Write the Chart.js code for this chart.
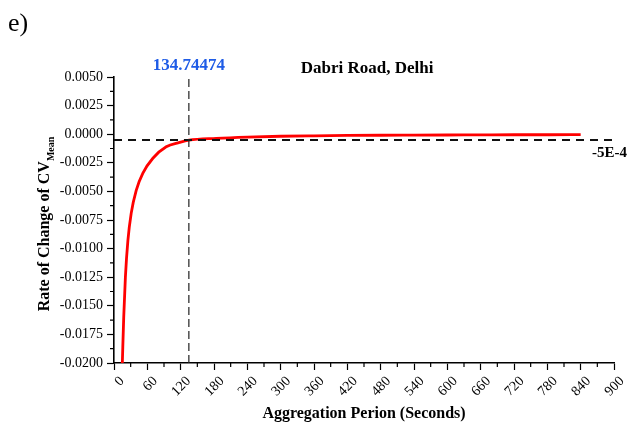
<!DOCTYPE html>
<html>
<head>
<meta charset="utf-8">
<script src="https://cdn.jsdelivr.net/npm/chart.js@4.4.1/dist/chart.umd.min.js"></script>
<style>
  body { margin: 0; background: #fff; }
  #wrap { width: 630px; height: 423px; }
</style>
</head>
<body>
<div id="wrap"><canvas id="cvChart" width="630" height="423"></canvas></div>
<script>
// Values
const periods = [15, 17.5, 20.5, 25, 31, 40, 52, 70, 94, 118, 135, 184, 240, 300, 360, 420, 480, 540, 600, 660, 720, 780, 840];
const rates = [-0.0200, -0.0160, -0.0125, -0.0093, -0.0069, -0.0049, -0.0034, -0.0021, -0.0011, -0.00072, -0.00052,
  -0.00036, -0.00025, -0.00018, -0.00014, -0.00011, -0.00009, -0.00008, -0.00007, -0.00006, -0.00005, -0.00005, -0.00004];

const thresholdX = 134.74474;   // vertical marker
const thresholdY = -0.0005;     // horizontal marker (-5E-4)
const xMin = 0, xMax = 900, xStep = 60;
const yMin = -0.02, yMax = 0.005, yStep = 0.0025;

const serif = "'Liberation Serif', 'Times New Roman', serif";

// Minor ticks, labels and the subscripted y title
const extrasPlugin = {
  id: "extras",
  afterDraw(chart) {
    const ctx = chart.ctx;
    const x = chart.scales.x;
    const y = chart.scales.y;
    const area = chart.chartArea;

    ctx.save();
    ctx.strokeStyle = "#000";
    ctx.lineWidth = 1.2;
    ctx.beginPath();
    for (let v = xMin + xStep / 2; v < xMax; v += xStep) {
      const px = x.getPixelForValue(v);
      ctx.moveTo(px, area.bottom);
      ctx.lineTo(px, area.bottom + 4);
    }
    for (let v = yMin + yStep / 2; v < yMax; v += yStep) {
      const py = y.getPixelForValue(v);
      ctx.moveTo(area.left, py);
      ctx.lineTo(area.left - 4, py);
    }
    ctx.stroke();

    // panel letter
    ctx.fillStyle = "#000";
    ctx.font = "26px " + serif;
    ctx.textAlign = "left";
    ctx.textBaseline = "alphabetic";
    ctx.fillText("e)", 8, 31);

    // title
    ctx.font = "bold 17px " + serif;
    ctx.textAlign = "center";
    ctx.textBaseline = "middle";
    ctx.fillText("Dabri Road, Delhi", 367, 69);

    // threshold value above the vertical marker
    ctx.fillStyle = "#1f5ce6";
    ctx.fillText(thresholdX.toFixed(5), x.getPixelForValue(thresholdX), 66);

    // -5E-4 label
    ctx.fillStyle = "#000";
    ctx.font = "bold 15px " + serif;
    ctx.textAlign = "left";
    ctx.fillText("-5E-4", 592, y.getPixelForValue(thresholdY) + 13);

    // y axis title with subscript
    const main = "Rate of Change of CV";
    const sub = "Mean";
    ctx.translate(45, (area.top + area.bottom) / 2 + 4);
    ctx.rotate(-Math.PI / 2);
    ctx.font = "bold 16px " + serif;
    const w1 = ctx.measureText(main).width;
    ctx.font = "bold 10px " + serif;
    const w2 = ctx.measureText(sub).width;
    const start = -(w1 + w2) / 2;
    ctx.font = "bold 16px " + serif;
    ctx.fillText(main, start, 0);
    ctx.font = "bold 10px " + serif;
    ctx.fillText(sub, start + w1, 6);
    ctx.restore();
  },
};

function initChart() {
  const ctx = document.getElementById("cvChart").getContext("2d");
  new Chart(ctx, {
    type: "line",
    data: {
      datasets: [
        {
          label: "threshold period",
          data: [
            { x: thresholdX, y: yMin },
            { x: thresholdX, y: yMax },
          ],
          borderColor: "#222",
          borderWidth: 1.2,
          borderDash: [8, 4],
          pointRadius: 0,
        },
        {
          label: "threshold rate",
          data: [
            { x: xMin, y: thresholdY },
            { x: xMax, y: thresholdY },
          ],
          borderColor: "#111",
          borderWidth: 2,
          borderDash: [8, 6],
          pointRadius: 0,
        },
        {
          label: "Rate of change",
          data: periods.map((p, i) => ({ x: p, y: rates[i] })),
          borderColor: "#ff0000",
          borderWidth: 2.8,
          pointRadius: 0,
          cubicInterpolationMode: "monotone",
        },
      ],
    },
    options: {
      responsive: false,
      animation: false,
      layout: { padding: { left: 0, top: 77, right: 16, bottom: 0 } },
      plugins: {
        legend: { display: false },
        tooltip: { enabled: false },
      },
      scales: {
        x: {
          type: "linear",
          min: xMin,
          max: xMax,
          afterFit(scale) {
            scale.height = 60;
          },
          border: { display: true, color: "#000", width: 1.6 },
          grid: { drawOnChartArea: false, drawTicks: true, tickLength: 7, tickColor: "#000", tickWidth: 1.2 },
          ticks: {
            stepSize: xStep,
            minRotation: 45,
            maxRotation: 45,
            labelOffset: 8,
            padding: 3,
            color: "#000",
            font: { family: serif, size: 14 },
          },
          title: {
            display: true,
            text: "Aggregation Perion (Seconds)",
            color: "#000",
            font: { family: serif, size: 16, weight: "bold" },
            padding: { top: 0, bottom: 0 },
          },
        },
        y: {
          min: yMin,
          max: yMax,
          afterFit(scale) {
            scale.width = 114;
          },
          border: { display: true, color: "#000", width: 1.6 },
          grid: { drawOnChartArea: false, drawTicks: true, tickLength: 7, tickColor: "#000", tickWidth: 1.2 },
          ticks: {
            stepSize: yStep,
            padding: 4,
            color: "#000",
            font: { family: serif, size: 14 },
            callback: (v) => (Math.abs(v) < 1e-12 ? 0 : v).toFixed(4),
          },
        },
      },
    },
    plugins: [extrasPlugin],
  });
}

window.onload = initChart;
</script>
</body>
</html>
